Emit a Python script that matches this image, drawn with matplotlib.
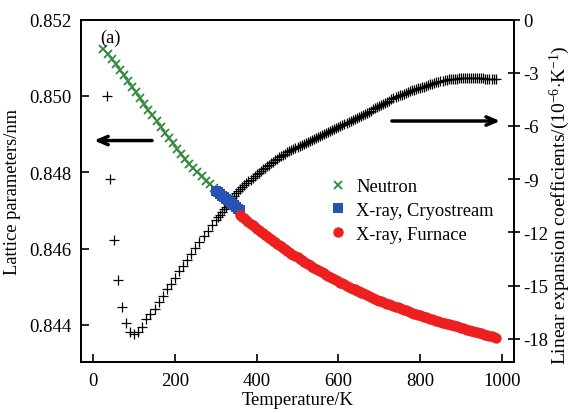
import matplotlib
matplotlib.use("Agg")
import matplotlib.pyplot as plt

plt.rcParams['font.family'] = ['Liberation Serif', 'DejaVu Serif']
plt.rcParams['mathtext.fontset'] = 'custom'
plt.rcParams['mathtext.rm'] = 'Liberation Serif'
plt.rcParams['mathtext.it'] = 'Liberation Serif:italic'

# ---- Data ----
# Neutron lattice parameter (nm)
neutron_T = [25, 35, 45, 55, 65, 75, 85, 95, 105, 115, 125, 135, 145, 155, 165,
             175, 185, 195, 205, 215, 225, 235, 245, 255, 265, 275, 285, 295]
neutron_a = [0.85122, 0.85110, 0.85097, 0.85083, 0.85069, 0.85054, 0.85039, 0.85024,
             0.85009, 0.84994, 0.84979, 0.84964, 0.84949, 0.84934, 0.84919, 0.84904,
             0.84890, 0.84876, 0.84862, 0.84848, 0.84834, 0.84821, 0.84810, 0.84800,
             0.84789, 0.84778, 0.84768, 0.84760]

# X-ray, Cryostream lattice parameter (nm)
cryo_T = [300, 305, 310, 315, 320, 325, 330, 335, 340, 345, 350, 355, 360]
cryo_a = [0.84752, 0.84748, 0.84743, 0.84739, 0.84735, 0.84730, 0.84726, 0.84722,
          0.84717, 0.84713, 0.84708, 0.84704, 0.84700]

# X-ray, Furnace lattice parameter (nm), 360 K .. 985 K every 5 K
furn_T = list(range(360, 986, 5))
furn_a = [0.84688, 0.84683, 0.84679, 0.84674, 0.84670, 0.84665, 0.84661, 0.84656,
          0.84652, 0.84648, 0.84644, 0.84640, 0.84636, 0.84632, 0.84628, 0.84624,
          0.84621, 0.84617, 0.84613, 0.84609, 0.84606, 0.84602, 0.84598, 0.84594,
          0.84591, 0.84587, 0.84584, 0.84580, 0.84577, 0.84573, 0.84570, 0.84566,
          0.84563, 0.84560, 0.84557, 0.84553, 0.84550, 0.84547, 0.84544, 0.84541,
          0.84538, 0.84535, 0.84532, 0.84529, 0.84526, 0.84523, 0.84520, 0.84517,
          0.84514, 0.84511, 0.84509, 0.84506, 0.84503, 0.84500, 0.84498, 0.84495,
          0.84493, 0.84490, 0.84488, 0.84485, 0.84483, 0.84480, 0.84478, 0.84475,
          0.84473, 0.84471, 0.84469, 0.84466, 0.84464, 0.84462, 0.84460, 0.84458,
          0.84456, 0.84454, 0.84452, 0.84450, 0.84448, 0.84446, 0.84444, 0.84442,
          0.84440, 0.84438, 0.84436, 0.84434, 0.84432, 0.84430, 0.84429, 0.84427,
          0.84425, 0.84423, 0.84421, 0.84420, 0.84418, 0.84416, 0.84415, 0.84413,
          0.84411, 0.84410, 0.84408, 0.84406, 0.84405, 0.84403, 0.84402, 0.84400,
          0.84399, 0.84397, 0.84396, 0.84394, 0.84393, 0.84391, 0.84390, 0.84388,
          0.84387, 0.84385, 0.84384, 0.84382, 0.84381, 0.84379, 0.84378, 0.84376,
          0.84375, 0.84373, 0.84372, 0.84370, 0.84369, 0.84367]

# Linear expansion coefficient (1e-6 / K): low-T points, then 300..985 K every 5 K
alpha_low_T = [33, 41, 51, 61, 70, 79, 90, 100, 110, 120, 130, 140, 150, 160, 170,
               180, 190, 200, 210, 220, 230, 240, 250, 260, 270, 280, 290]
alpha_low_v = [-4.3, -9.0, -12.4, -14.7, -16.2, -17.1, -17.6, -17.7, -17.6, -17.3,
               -16.9, -16.6, -16.3, -15.9, -15.6, -15.2, -14.9, -14.55, -14.2, -13.9,
               -13.55, -13.2, -12.9, -12.55, -12.2, -11.9, -11.6]
alpha_high_T = list(range(300, 986, 5))
alpha_high_v = [-11.30, -11.15, -11.00, -10.85, -10.70, -10.55, -10.40, -10.24, -10.08,
                -9.94, -9.80, -9.67, -9.55, -9.44, -9.33, -9.22, -9.12, -9.02, -8.92,
                -8.82, -8.73, -8.63, -8.54, -8.45, -8.36, -8.27, -8.18, -8.09, -8.01,
                -7.93, -7.85, -7.77, -7.70, -7.63, -7.56, -7.49, -7.43, -7.36, -7.30,
                -7.24, -7.18, -7.12, -7.06, -7.00, -6.95, -6.89, -6.84, -6.78, -6.73,
                -6.67, -6.62, -6.56, -6.50, -6.45, -6.40, -6.34, -6.28, -6.22, -6.17,
                -6.11, -6.05, -5.99, -5.94, -5.88, -5.83, -5.77, -5.72, -5.66, -5.60,
                -5.54, -5.49, -5.43, -5.37, -5.31, -5.25, -5.19, -5.13, -5.06, -5.00,
                -4.94, -4.88, -4.82, -4.76, -4.70, -4.64, -4.57, -4.50, -4.44, -4.38,
                -4.33, -4.28, -4.23, -4.18, -4.13, -4.09, -4.04, -4.00, -3.96, -3.92,
                -3.88, -3.85, -3.81, -3.78, -3.74, -3.70, -3.66, -3.62, -3.58, -3.55,
                -3.51, -3.48, -3.45, -3.42, -3.40, -3.38, -3.36, -3.35, -3.34, -3.33,
                -3.32, -3.32, -3.31, -3.31, -3.31, -3.31, -3.31, -3.31, -3.31, -3.32,
                -3.32, -3.32, -3.32, -3.33, -3.33, -3.33, -3.33, -3.34, -3.34]
alpha_T = alpha_low_T + alpha_high_T
alpha_v = alpha_low_v + alpha_high_v

left_ticks = [0.844, 0.846, 0.848, 0.850, 0.852]
left_ticklabels = ['0.844', '0.846', '0.848', '0.850', '0.852']
right_ticks = [0, -3, -6, -9, -12, -15, -18]
right_ticklabels = ['0', '-3', '-6', '-9', '-12', '-15', '-18']
x_ticks = [0, 200, 400, 600, 800, 1000]

GREEN = '#2f8a3c'
BLUE = '#2554b5'
RED = '#ee1f1f'

fig = plt.figure(figsize=(5.71, 4.14), dpi=100)
ax = fig.add_axes([81 / 571, 1 - 363 / 414, 433 / 571, 342.5 / 414])
ax2 = ax.twinx()

ax2.plot(alpha_T, alpha_v, linestyle='none', marker='+', markersize=7.5,
         markeredgewidth=0.9, color='black', zorder=1)

ax.set_zorder(ax2.get_zorder() + 1)
ax.patch.set_visible(False)

ax.plot(neutron_T, neutron_a, linestyle='none', marker='x', markersize=6,
        markeredgewidth=1.3, color=GREEN, label='Neutron')
ax.plot(cryo_T, cryo_a, linestyle='none', marker='s', markersize=6.8,
        markeredgewidth=0, color=BLUE, label='X-ray, Cryostream')
ax.plot(furn_T, furn_a, linestyle='none', marker='o', markersize=7.5,
        markeredgewidth=0, color=RED, label='X-ray, Furnace')

ax.set_xlim(-30, 1030)
ax.set_ylim(0.84303, 0.852)
ax2.set_ylim(-19.3, 0)

ax.set_xticks(x_ticks)
ax.set_yticks(left_ticks)
ax.set_yticklabels(left_ticklabels)
ax2.set_yticks(right_ticks)
ax2.set_yticklabels(right_ticklabels)

fs = 13.5
ax.tick_params(axis='both', direction='in', length=6, width=1.2, labelsize=fs,
               pad=7, top=False, right=False)
ax2.tick_params(axis='y', direction='inout', length=8, width=1.2, labelsize=fs,
                pad=3)
for a in (ax, ax2):
    for s in a.spines.values():
        s.set_linewidth(1.3)

ax.set_xlabel('Temperature/K', fontsize=13.3, labelpad=2)
ax.set_ylabel('Lattice parameters/nm', fontsize=13.3, labelpad=6)
fig.text(560 / 571, 1 - 205 / 414,
         r'Linear expansion coefficients/(10$^{-6}$$\cdot$K$^{-1}$)',
         fontsize=14, rotation=90, ha='center', va='center')

ax.text(0.044, 0.972, '(a)', transform=ax.transAxes, fontsize=13.3, va='top', ha='left')

ax.annotate('', xy=(2, 0.84883), xytext=(144, 0.84883),
            arrowprops=dict(arrowstyle='->,head_length=0.7,head_width=0.3',
                            lw=2.5, color='black', shrinkA=0, shrinkB=0))
ax2.annotate('', xy=(996, -5.72), xytext=(731, -5.72),
             arrowprops=dict(arrowstyle='->,head_length=0.7,head_width=0.3',
                             lw=2.5, color='black', shrinkA=0, shrinkB=0))

leg = ax.legend(loc='upper left', bbox_to_anchor=(0.555, 0.558), frameon=False,
                fontsize=13.3, handlelength=1.0, handletextpad=0.5,
                labelspacing=0.36, borderaxespad=0, markerscale=1.0)

fig.savefig('out.png', dpi=100)
